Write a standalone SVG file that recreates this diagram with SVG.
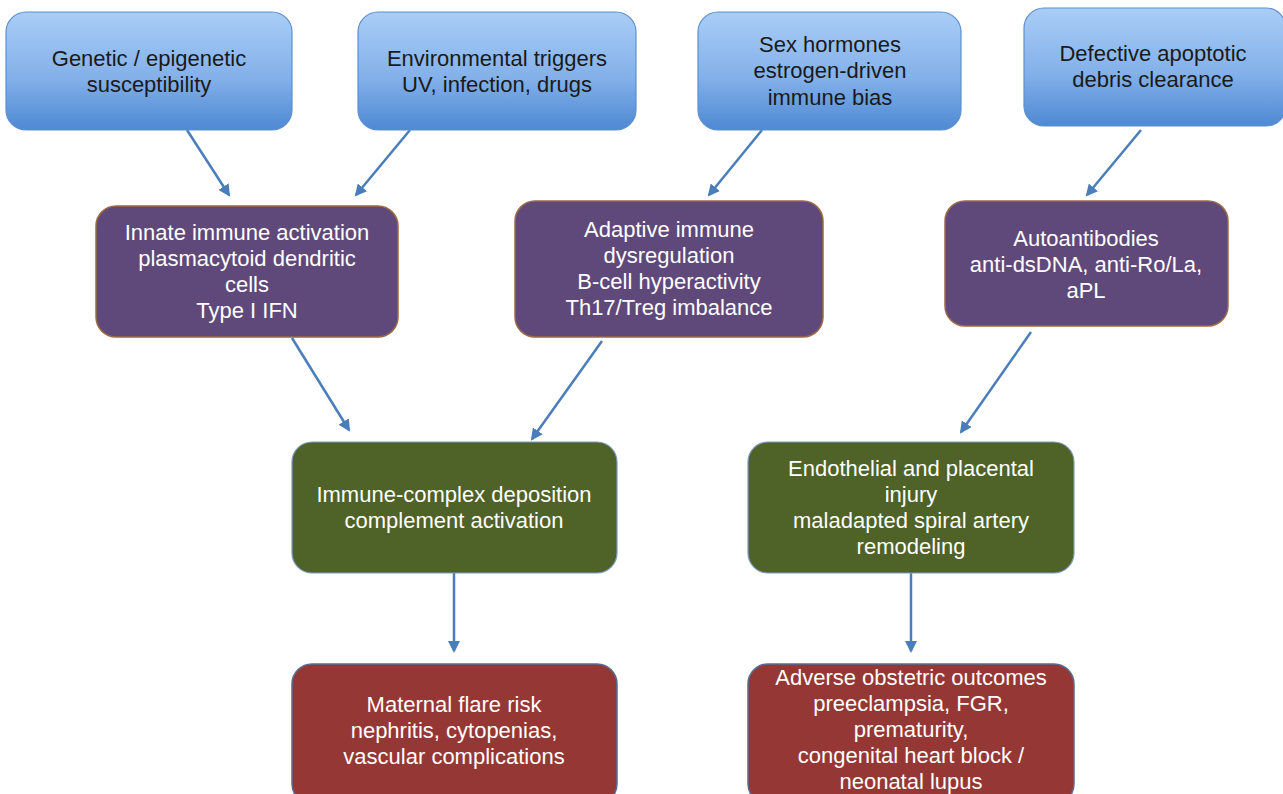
<svg xmlns="http://www.w3.org/2000/svg" width="1283" height="794" viewBox="0 0 1283 794">
<style>
.t{font-family:"Liberation Sans",Arial,sans-serif;font-size:22px;text-anchor:middle}
.dk{fill:#1a1a1a}
.wt{fill:#ffffff}
.blue{fill:url(#gb);stroke:#5d8fcf;stroke-width:1.2}
.pur{fill:#5f497a;stroke:#9a6a44;stroke-width:1.5}
.grn{fill:#4f6228;stroke:#7f9bbf;stroke-width:1.2}
.red{fill:#953735;stroke:#5a6a90;stroke-width:1.5}
.c{stroke:#4a7ebb;stroke-width:2.5;fill:none;marker-end:url(#ah)}
</style>
<defs>
<linearGradient id="gb" x1="0" y1="0" x2="0" y2="1">
<stop offset="0" stop-color="#a9cdf6"/>
<stop offset="0.55" stop-color="#84b1ea"/>
<stop offset="1" stop-color="#4e89d3"/>
</linearGradient>
<marker id="ah" markerWidth="12" markerHeight="12" refX="10" refY="6" orient="auto" markerUnits="userSpaceOnUse" viewBox="0 0 12 12">
<path d="M0,0 L12,6 L0,12 z" fill="#4a7ebb"/>
</marker>
</defs>
<rect width="1283" height="794" fill="#ffffff"/>
<g id="connectors">
<line class="c" x1="187" y1="130" x2="229" y2="195"/>
<line class="c" x1="410" y1="130" x2="356" y2="195"/>
<line class="c" x1="762" y1="130" x2="709" y2="195"/>
<line class="c" x1="1141" y1="130" x2="1087" y2="195"/>
<line class="c" x1="292" y1="338" x2="349" y2="430"/>
<line class="c" x1="602" y1="341" x2="532" y2="439"/>
<line class="c" x1="1031" y1="332" x2="961" y2="432"/>
<line class="c" x1="454" y1="572" x2="454" y2="651"/>
<line class="c" x1="911" y1="572" x2="911" y2="651"/>
</g>
<g id="n-genetic">
<rect class="blue" x="6" y="12" width="286" height="118" rx="20"/>
<text class="t dk" x="149" y="66">Genetic / epigenetic</text>
<text class="t dk" x="149" y="92">susceptibility</text>
</g>
<g id="n-env">
<rect class="blue" x="358" y="12" width="278" height="118" rx="20"/>
<text class="t dk" x="497" y="66">Environmental triggers</text>
<text class="t dk" x="497" y="92">UV, infection, drugs</text>
</g>
<g id="n-sex">
<rect class="blue" x="698" y="12" width="263" height="118" rx="20"/>
<text class="t dk" x="830" y="52">Sex hormones</text>
<text class="t dk" x="830" y="78">estrogen-driven</text>
<text class="t dk" x="830" y="105">immune bias</text>
</g>
<g id="n-defective">
<rect class="blue" x="1024" y="8" width="262" height="118" rx="20"/>
<text class="t dk" x="1153" y="61">Defective apoptotic</text>
<text class="t dk" x="1153" y="87">debris clearance</text>
</g>
<g id="n-innate">
<rect class="pur" x="96" y="206" width="302" height="131" rx="20"/>
<text class="t wt" x="247" y="240">Innate immune activation</text>
<text class="t wt" x="247" y="266">plasmacytoid dendritic</text>
<text class="t wt" x="247" y="292">cells</text>
<text class="t wt" x="247" y="318">Type I IFN</text>
</g>
<g id="n-adaptive">
<rect class="pur" x="515" y="201" width="308" height="136" rx="20"/>
<text class="t wt" x="669" y="237">Adaptive immune</text>
<text class="t wt" x="669" y="263">dysregulation</text>
<text class="t wt" x="669" y="289">B-cell hyperactivity</text>
<text class="t wt" x="669" y="315">Th17/Treg imbalance</text>
</g>
<g id="n-auto">
<rect class="pur" x="945" y="201" width="283" height="125" rx="20"/>
<text class="t wt" x="1086" y="246">Autoantibodies</text>
<text class="t wt" x="1086" y="272">anti-dsDNA, anti-Ro/La,</text>
<text class="t wt" x="1086" y="298">aPL</text>
</g>
<g id="n-ic">
<rect class="grn" x="292" y="442" width="325" height="131" rx="20"/>
<text class="t wt" x="454" y="502">Immune-complex deposition</text>
<text class="t wt" x="454" y="528">complement activation</text>
</g>
<g id="n-endo">
<rect class="grn" x="748" y="442" width="326" height="131" rx="20"/>
<text class="t wt" x="911" y="476">Endothelial and placental</text>
<text class="t wt" x="911" y="502">injury</text>
<text class="t wt" x="911" y="528">maladapted spiral artery</text>
<text class="t wt" x="911" y="554">remodeling</text>
</g>
<g id="n-maternal">
<rect class="red" x="292" y="664" width="325" height="140" rx="20"/>
<text class="t wt" x="454" y="712">Maternal flare risk</text>
<text class="t wt" x="454" y="738">nephritis, cytopenias,</text>
<text class="t wt" x="454" y="764">vascular complications</text>
</g>
<g id="n-adverse">
<rect class="red" x="748" y="664" width="326" height="140" rx="20"/>
<text class="t wt" x="911" y="685">Adverse obstetric outcomes</text>
<text class="t wt" x="911" y="711">preeclampsia, FGR,</text>
<text class="t wt" x="911" y="737">prematurity,</text>
<text class="t wt" x="911" y="763">congenital heart block /</text>
<text class="t wt" x="911" y="789">neonatal lupus</text>
</g>
</svg>
